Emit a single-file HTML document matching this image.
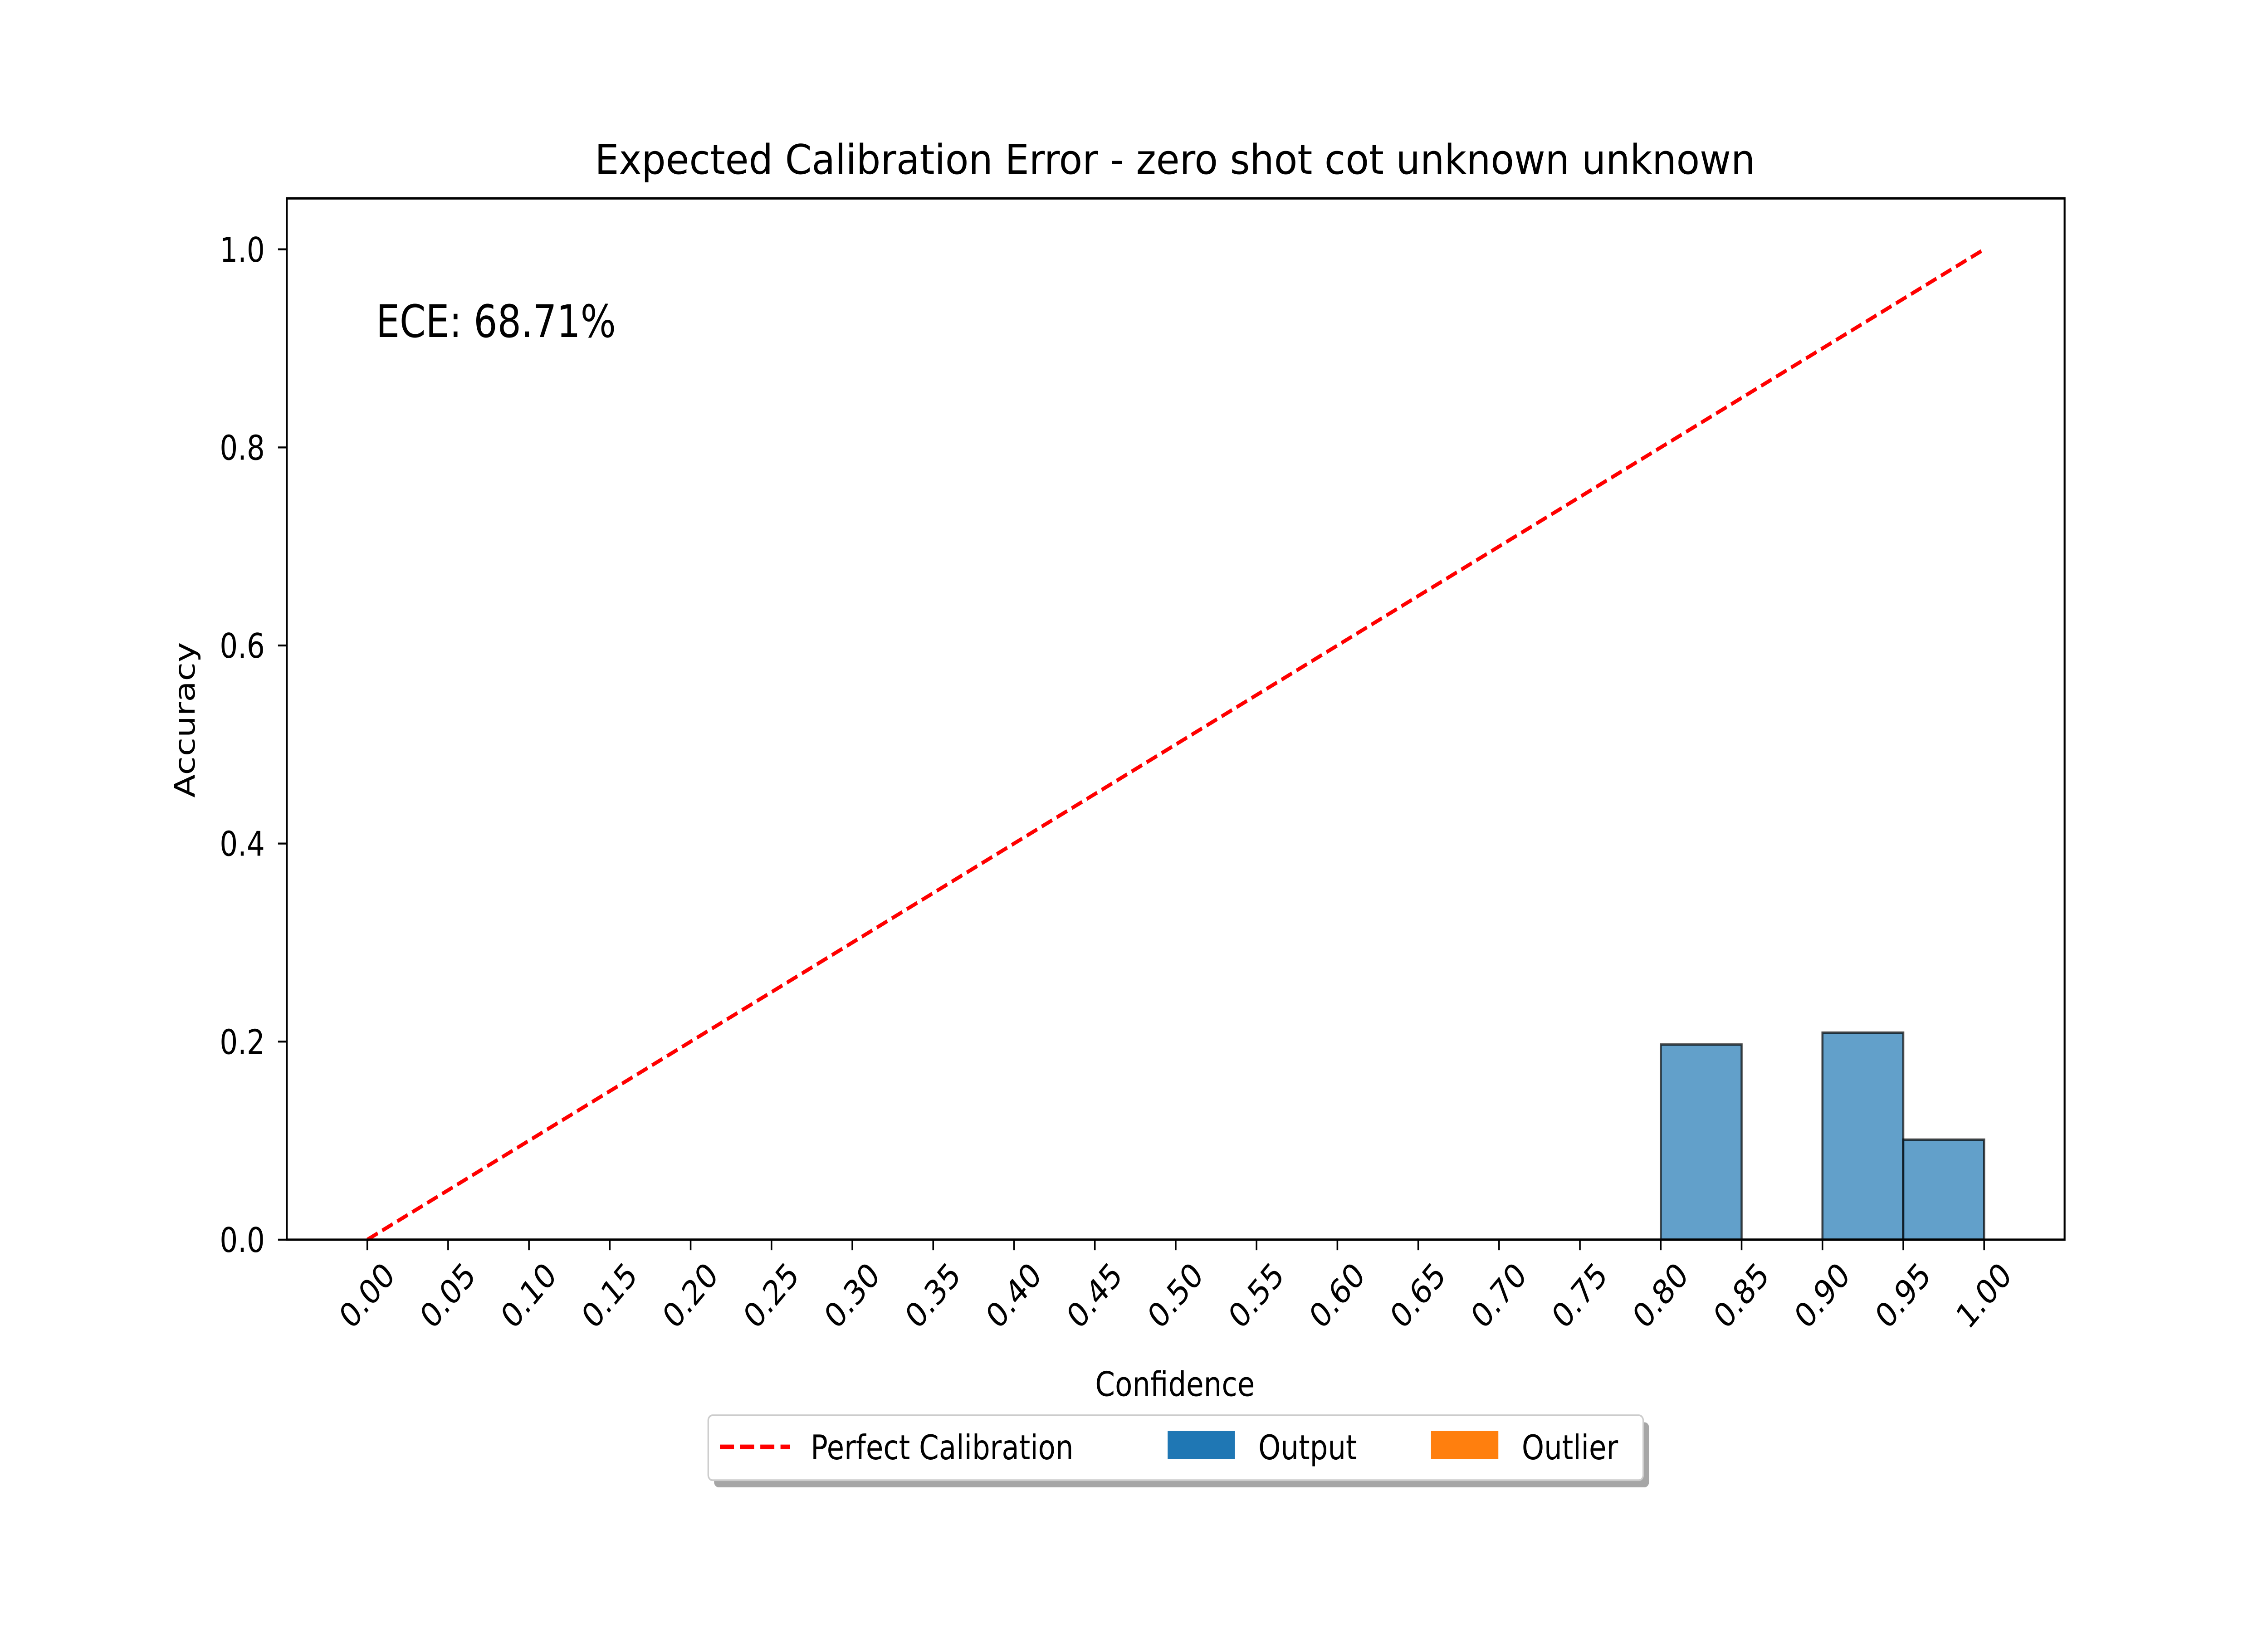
<!DOCTYPE html>
<html><head><meta charset="utf-8"><style>html,body{margin:0;padding:0;background:#fff;width:100%;height:100%;overflow:hidden}svg{display:block;position:fixed;left:0;top:0;width:100vw;height:100vh}</style></head>
<body>
<svg id="chart" viewBox="0 0 1550 930" preserveAspectRatio="none" xmlns="http://www.w3.org/2000/svg" font-family="'DejaVu Sans','Liberation Sans',sans-serif">
<rect width="1550" height="930" fill="#fff"/>
<text x="803" y="99" font-size="23.3" text-anchor="middle" textLength="793" lengthAdjust="spacingAndGlyphs">Expected Calibration Error - zero shot cot unknown unknown</text>
<g id="plot"></g>
<rect x="196" y="113" width="1215" height="593" fill="none" stroke="#000" stroke-width="1.3"/>
<text x="257" y="192" font-size="25.5">ECE: 68.71%</text>
<text x="803" y="795" font-size="19.4" text-anchor="middle">Confidence</text>
<text x="133" y="410" font-size="19.4" text-anchor="middle" transform="rotate(-90 133 410)">Accuracy</text>
<g>
<rect x="488" y="810" width="639" height="37" rx="3" fill="#000" opacity="0.35"/>
<rect x="484" y="806" width="639" height="37" rx="3" fill="#fff" stroke="#ccc" stroke-width="1"/>
<line x1="492" y1="824" x2="540" y2="824" stroke="#f00" stroke-width="2.6" stroke-dasharray="9.6,4.2"/>
<text x="554" y="831" font-size="19.4">Perfect Calibration</text>
<rect x="798" y="815" width="46" height="16" fill="#1f77b4"/>
<text x="860" y="831" font-size="19.4">Output</text>
<rect x="978" y="815" width="46" height="16" fill="#ff7f0e"/>
<text x="1040" y="831" font-size="19.4">Outlier</text>
</g>
</svg>
<script>
const binStarts = [0,0.05,0.1,0.15,0.2,0.25,0.3,0.35,0.4,0.45,0.5,0.55,0.6,0.65,0.7,0.75,0.8,0.85,0.9,0.95];
const binAccuracy = [0,0,0,0,0,0,0,0,0,0,0,0,0,0,0,0,0.197,0,0.209,0.101];
const xTickValues = [0,0.05,0.1,0.15,0.2,0.25,0.3,0.35,0.4,0.45,0.5,0.55,0.6,0.65,0.7,0.75,0.8,0.85,0.9,0.95,1.0];
const xTickLabels = ["0.00","0.05","0.10","0.15","0.20","0.25","0.30","0.35","0.40","0.45","0.50","0.55","0.60","0.65","0.70","0.75","0.80","0.85","0.90","0.95","1.00"];
const yTickValues = [0,0.2,0.4,0.6,0.8,1.0];
const yTickLabels = ["0.0","0.2","0.4","0.6","0.8","1.0"];
const diagonal = [0,1];
const binWidth = 0.05;

const NS = "http://www.w3.org/2000/svg";
const X = v => 251 + v * 1105;
const Y = v => 706 - v * 564;
const g = document.getElementById('plot');
function mk(tag, attrs, parent) {
  const e = document.createElementNS(NS, tag);
  for (const k in attrs) e.setAttribute(k, attrs[k]);
  (parent || g).appendChild(e);
  return e;
}
binStarts.forEach((b, i) => {
  const x0 = X(b), x1 = X(b + binWidth), y0 = Y(0), y1 = Y(binAccuracy[i]);
  const p = mk('path', {d: `M${x0},${y0}L${x0},${y1}L${x1},${y1}L${x1},${y0}Z`, fill: 'rgba(31,119,180,0.7)', stroke: 'rgba(0,0,0,0.7)', 'stroke-width': 1.4});
  
  
});
const dl = mk('line', {x1: X(diagonal[0]), y1: Y(diagonal[0]), x2: X(diagonal[1]), y2: Y(diagonal[1]), stroke: '#f00', 'stroke-width': 2.2, 'stroke-dasharray': '8,3.5'});


xTickValues.forEach((v, i) => {
  const x = X(v);
  const t = mk('line', {x1: x, y1: 706, x2: x, y2: 712, stroke: '#000', 'stroke-width': 1.1});
  
  
  const cy = 738;
  const l = mk('text', {x: x, y: cy, 'font-size': 19.4, 'text-anchor': 'middle', 'dominant-baseline': 'central', transform: `rotate(-45 ${x} ${cy})`});
  l.textContent = xTickLabels[i];
  
  
});
yTickValues.forEach((v, i) => {
  const y = Y(v);
  const t = mk('line', {x1: 190, y1: y, x2: 196, y2: y, stroke: '#000', 'stroke-width': 1.1});
  
  
  const l = mk('text', {x: 181, y: y + 7, 'font-size': 19.4, 'text-anchor': 'end'});
  l.textContent = yTickLabels[i];
  
  
});
</script>
</body></html>
